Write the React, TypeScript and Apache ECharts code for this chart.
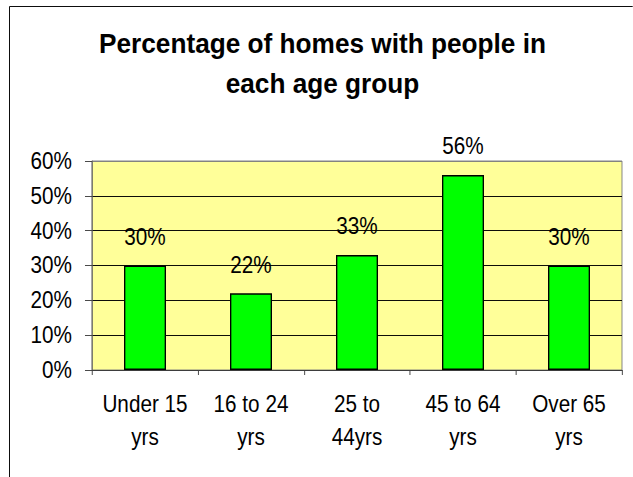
import React, { useEffect, useRef } from "react";
import * as echarts from "echarts";

const categories = ["Under 15\nyrs", "16 to 24\nyrs", "25 to\n44yrs", "45 to 64\nyrs", "Over 65\nyrs"];
const values = [30, 22, 33, 56, 30];
const titleText = "Percentage of homes with people in\neach age group";
const FONT = "'Liberation Sans', Arial, sans-serif";
const SX = 0.9; // horizontal squeeze of the whole picture
const W = 633 / SX;

export default function App() {
  const ref = useRef<HTMLDivElement>(null);
  useEffect(() => {
    if (!ref.current) return;
    const chart = echarts.init(ref.current, undefined, { renderer: "svg" });
    chart.setOption({
      animation: false,
      backgroundColor: "#ffffff",
      title: { show: false, text: titleText },
      graphic: [
        { type: "rect", shape: { x: 9.5 / SX, y: 6.5, width: 800, height: 600 }, style: { fill: "none", stroke: "#000", lineWidth: 1 }, silent: true, z: 0 },
        {
          type: "text",
          x: 322.5 / SX,
          y: 23,
          scaleX: 1.04,
          style: {
            text: titleText,
            fontFamily: FONT,
            fontSize: 28,
            fontWeight: "bold",
            fill: "#000",
            lineHeight: 40,
            align: "center",
            verticalAlign: "top",
          },
          z: 10,
        },
      ],
      grid: { left: 92 / SX, top: 161, width: 530 / SX, height: 209, show: true, backgroundColor: "#FFFF99", borderColor: "#808080", borderWidth: 1 },
      xAxis: {
        type: "category",
        data: categories,
        axisLine: { lineStyle: { color: "#404040", width: 1 } },
        axisTick: { show: true, length: 5, lineStyle: { color: "#404040" } },
        axisLabel: { fontFamily: FONT, fontSize: 23, color: "#000", lineHeight: 33, margin: 18, interval: 0 },
      },
      yAxis: {
        type: "value",
        min: 0,
        max: 60,
        interval: 10,
        axisLine: { show: true, lineStyle: { color: "#606060", width: 1 } },
        axisTick: { show: true, length: 7 / SX, lineStyle: { color: "#404040" } },
        axisLabel: { formatter: "{value}%", fontFamily: FONT, fontSize: 23, color: "#000", margin: 20 / SX },
        splitLine: { show: true, lineStyle: { color: ["#000", "#000", "#000", "#000", "#000", "#000", "#808080"], width: 1 } },
      },
      series: [
        {
          type: "bar",
          data: values,
          barWidth: 42 / SX,
          itemStyle: { color: "#00FF00", borderColor: "#000", borderWidth: 1.5 },
          label: { show: true, position: "top", distance: 17, formatter: "{c}%", fontFamily: FONT, fontSize: 23, color: "#000" },
        },
      ],
    });
    return () => chart.dispose();
  }, []);
  return (
    <div
      ref={ref}
      style={{ position: "fixed", left: 0, top: 0, width: W, height: 477, transform: `scaleX(${SX})`, transformOrigin: "0 0" }}
    />
  );
}
